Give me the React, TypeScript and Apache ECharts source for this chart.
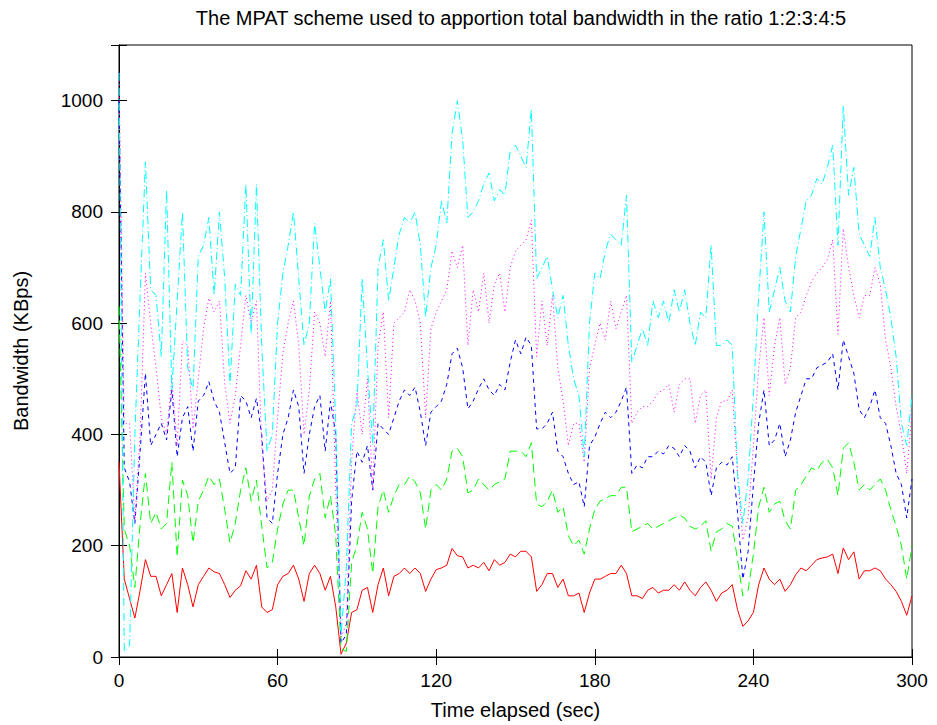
import React, { useEffect, useRef } from "react";
import * as echarts from "echarts";

// Sample step of the traces, seconds (x positions 0, 2, 4, ... 300)
const SAMPLE_STEP = 2;
const X_TICKS = [0, 60, 120, 180, 240, 300];
const Y_TICKS = [0, 200, 400, 600, 800, 1000];

const RED = [
  350,140,105,70,120,175,145,145,110,130,150,80,160,130,90,130,145,160,153,150,130,107,120,128,155,140,
  165,90,80,85,130,145,150,165,140,100,150,165,150,120,145,90,5,25,80,85,120,125,80,130,160,
  110,145,150,160,150,160,150,118,140,157,160,165,195,182,180,160,165,160,170,155,175,165,170,185,180,
  190,190,180,118,130,150,150,125,140,110,110,115,80,115,140,140,145,150,150,165,150,110,110,105,120,
  125,115,120,120,130,120,135,120,110,125,135,120,100,115,120,130,85,55,65,80,130,160,140,130,140,
  118,130,148,160,155,165,175,178,180,185,150,196,175,189,140,155,155,160,155,140,130,118,100,75,110,
];

const GREEN = [
  630,230,200,125,240,330,240,260,230,240,350,180,318,290,205,280,300,325,310,320,265,205,240,300,340,280,
  318,235,160,170,230,275,300,300,250,200,289,320,330,250,290,218,15,10,170,200,260,230,150,270,300,
  260,290,310,310,325,315,295,230,300,310,300,320,370,375,360,295,300,320,310,300,310,315,320,370,370,
  370,360,385,275,270,280,300,260,270,218,200,210,185,230,265,280,285,290,290,305,305,225,230,235,240,
  230,235,240,245,250,255,250,235,230,235,245,190,225,230,240,235,175,110,120,185,270,305,260,275,280,
  245,230,300,310,325,340,335,350,355,340,290,375,385,350,300,310,300,310,320,300,265,235,200,140,200,
];

const BLUE = [
  1000,340,315,240,370,510,380,400,420,390,480,360,430,450,370,460,470,495,460,440,385,330,340,470,460,430,
  465,400,250,240,330,400,430,480,450,330,400,450,470,370,460,400,25,40,280,370,350,380,300,420,410,
  400,430,460,480,470,485,440,380,440,450,460,490,545,555,520,446,460,482,500,480,470,490,480,530,570,
  545,575,560,410,410,420,440,370,360,330,310,315,270,380,395,420,440,430,440,460,485,330,345,340,360,
  360,370,365,380,375,360,380,370,340,360,350,290,340,350,345,360,260,140,190,310,420,480,380,390,420,
  360,390,440,470,500,500,520,525,530,545,480,570,540,510,445,430,450,480,430,420,380,330,310,250,320,
];

const MAGENTA = [
  1050,420,420,245,400,690,600,520,430,400,500,380,568,560,410,500,590,645,620,640,490,420,470,560,650,600,
  640,380,280,300,430,546,600,640,560,400,480,620,600,540,640,300,35,60,350,480,400,500,300,560,620,
  430,600,610,620,660,640,600,430,590,620,640,660,730,700,740,560,660,620,690,600,670,690,620,700,730,
  740,750,785,540,640,560,650,520,460,380,420,420,350,520,560,600,570,640,590,620,650,420,440,450,450,
  460,475,480,490,440,490,500,500,420,470,480,320,430,460,460,480,330,210,250,380,520,610,470,560,610,
  490,520,610,620,650,675,690,700,715,750,580,770,700,650,610,650,650,700,670,570,520,450,400,330,440,
];

const CYAN = [
  1050,10,20,400,650,890,660,650,540,840,480,640,800,520,480,720,740,790,650,800,680,490,670,650,850,580,
  850,560,370,400,600,690,740,800,680,560,600,780,700,620,680,420,40,160,420,450,680,520,380,700,750,
  640,700,760,790,780,800,740,610,700,740,820,780,940,1000,930,790,800,820,850,870,820,840,830,910,920,
  900,880,985,680,700,720,660,610,650,560,500,470,360,600,690,680,730,760,750,740,830,530,560,590,560,
  640,610,640,600,660,620,660,600,560,620,610,740,560,560,570,560,330,240,320,470,650,800,620,660,700,
  640,620,720,770,820,830,860,850,880,920,740,990,830,880,760,740,720,790,700,660,610,540,420,380,470,
];

const SERIES = [
  { name: "1", data: RED, color: "#ff0000", dash: "solid" as any },
  { name: "2", data: GREEN, color: "#00ff00", dash: [9, 5] },
  { name: "3", data: BLUE, color: "#0000ff", dash: [4, 4] },
  { name: "4", data: MAGENTA, color: "#ff00ff", dash: [1, 3] },
  { name: "5", data: CYAN, color: "#00ffff", dash: [8, 3, 1, 3] },
];

const FONT = "Liberation Sans";

export default function App() {
  const ref = useRef<HTMLDivElement>(null);
  useEffect(() => {
    if (!ref.current) return;
    const chart = echarts.init(ref.current, null, { renderer: "svg" });
    const toPairs = (arr: number[]) => arr.map((v, i) => [i * SAMPLE_STEP, v]);
    const axisCommon = {
      axisLine: { show: true, lineStyle: { color: "#000", width: 1 } },
      axisTick: { show: true, inside: true, length: 8, lineStyle: { color: "#000", width: 1 } },
      splitLine: { show: false },
    };
    chart.setOption({
      animation: false,
      title: {
        text: "The MPAT scheme used to apportion total bandwidth in the ratio 1:2:3:4:5",
        left: 516,
        top: 3,
        textAlign: "center",
        textStyle: { fontFamily: FONT, fontSize: 20, fontWeight: "normal", color: "#000" },
      },
      grid: { left: 119, right: 25, top: 45, bottom: 65, show: true, borderColor: "#000", borderWidth: 1 },
      xAxis: [
        {
          type: "value", min: X_TICKS[0], max: X_TICKS[X_TICKS.length - 1], interval: 60, position: "bottom",
          ...axisCommon,
          axisLabel: { color: "#000", fontFamily: FONT, fontSize: 19, margin: 14 },
          name: "Time elapsed (sec)", nameLocation: "middle", nameGap: 43,
          nameTextStyle: { fontFamily: FONT, fontSize: 20, color: "#000" },
        },
        {
          type: "value", min: X_TICKS[0], max: X_TICKS[X_TICKS.length - 1], interval: 60, position: "top",
          ...axisCommon, axisLabel: { show: false },
        },
      ],
      yAxis: [
        {
          type: "value", min: Y_TICKS[0], max: 1100, interval: 200, position: "left",
          ...axisCommon,
          axisLabel: {
            color: "#000", fontFamily: FONT, fontSize: 19, margin: 16,
            formatter: (v: number) => (Y_TICKS.includes(v) ? String(v) : ""),
          },
          name: "Bandwidth (KBps)", nameLocation: "middle", nameGap: 88, nameRotate: 90,
          nameTextStyle: { fontFamily: FONT, fontSize: 20, color: "#000" },
        },
        {
          type: "value", min: Y_TICKS[0], max: 1100, interval: 200, position: "right",
          ...axisCommon, axisLabel: { show: false },
        },
      ],
      series: SERIES.map((s) => ({
        name: s.name,
        type: "line",
        data: toPairs(s.data),
        showSymbol: false,
        symbol: "none",
        lineStyle: { color: s.color, width: 1, type: s.dash },
        itemStyle: { color: s.color },
        silent: true,
      })),
    });
    return () => chart.dispose();
  }, []);
  return <div ref={ref} style={{ position: "absolute", left: 0, top: 0, width: 937, height: 725 }} />;
}
